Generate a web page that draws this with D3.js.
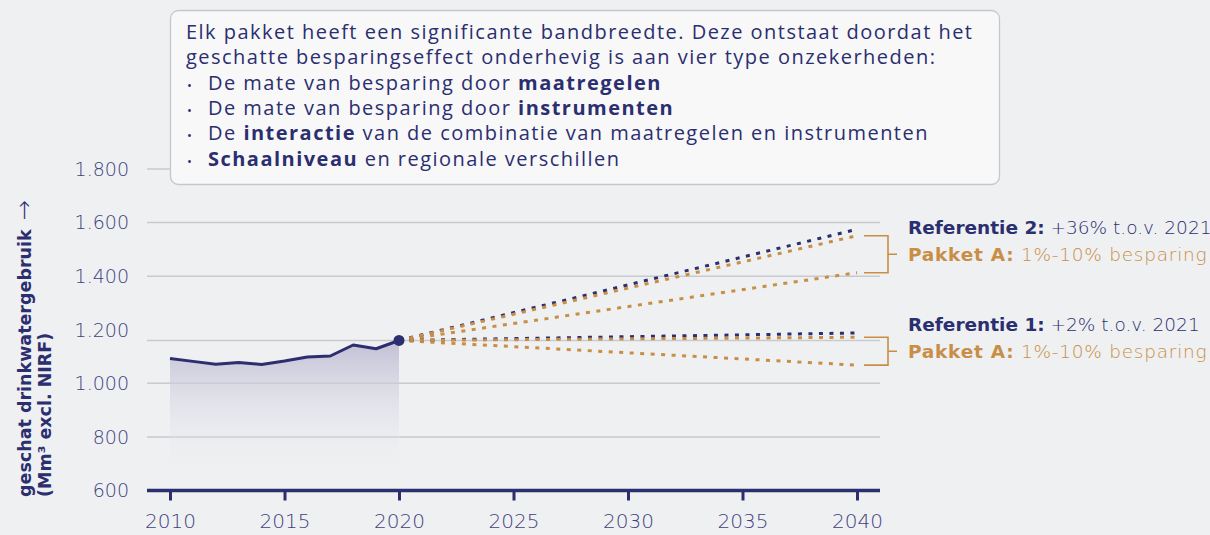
<!DOCTYPE html>
<html>
<head>
<meta charset="utf-8">
<script src="https://cdn.jsdelivr.net/npm/d3@7"></script>
<style>
  html, body { margin: 0; padding: 0; background: #eff0f2; }
  svg { display: block; }
</style>
</head>
<body>
<svg id="chart" width="1210" height="535"></svg>
<script>
// DATA //////////////////////////////////
var histYears = [2010, 2011, 2012, 2013, 2014, 2015, 2016, 2017, 2018, 2019, 2020];
var histValues = [1093, 1082, 1071, 1078, 1070, 1083, 1098, 1102, 1143, 1129, 1160];

var projYears = [2020, 2040];
var ref2 = [1160, 1575];
var pakket2Hi = [1160, 1551];
var pakket2Lo = [1160, 1413];
var ref1 = [1160, 1188];
var pakket1Hi = [1160, 1172];
var pakket1Lo = [1160, 1068];

var yTicks = [600, 800, 1000, 1200, 1400, 1600, 1800];
var gridValues = [800, 1000, 1400, 1600, 1800];
var xTicks = [2010, 2015, 2020, 2025, 2030, 2035, 2040];

var boxLines = [
  [{ t: "Elk pakket heeft een significante bandbreedte. Deze ontstaat doordat het" }],
  [{ t: "geschatte besparingseffect onderhevig is aan vier type onzekerheden:" }],
  [{ t: "De mate van besparing door " }, { t: "maatregelen", b: true }],
  [{ t: "De mate van besparing door " }, { t: "instrumenten", b: true }],
  [{ t: "De " }, { t: "interactie", b: true }, { t: " van de combinatie van maatregelen en instrumenten" }],
  [{ t: "Schaalniveau", b: true }, { t: " en regionale verschillen" }]
];
var bulletFrom = 2;

// COLOURS ///////////////////////////////
var navy = "#2b2e6f";
var gold = "#c98e45";
var tickCol = "#3f4280";
var gridCol = "#c9cacf";

var svg = d3.select("#chart");
var x = d3.scaleLinear().domain([2010, 2040]).range([170, 857]);
var y = d3.scaleLinear().domain([600, 1800]).range([490.5, 169]);
var nl = d3.formatLocale({ decimal: ",", thousands: ".", grouping: [3], currency: ["€", ""] });
var fmt = nl.format(",");

svg.append("rect").attr("width", 1210).attr("height", 535).attr("fill", "#eff0f2");

// gradient for the area
var defs = svg.append("defs");
var grad = defs.append("linearGradient").attr("id", "areaGrad")
  .attr("gradientUnits", "userSpaceOnUse")
  .attr("x1", 0).attr("x2", 0).attr("y1", y(1160)).attr("y2", y(660));
grad.append("stop").attr("offset", 0).attr("stop-color", "#bcbad2").attr("stop-opacity", 0.9);
grad.append("stop").attr("offset", 1).attr("stop-color", "#eff0f2").attr("stop-opacity", 0);

// GRID //////////////////////////////////
svg.append("g").selectAll("line").data(gridValues).join("line")
  .attr("x1", 147).attr("x2", 880)
  .attr("y1", d => y(d)).attr("y2", d => y(d))
  .attr("stroke", gridCol).attr("stroke-width", 1.5);
// level of 2020 instead of the 1.200 line
svg.append("line")
  .attr("x1", 147).attr("x2", 880)
  .attr("y1", y(histValues[histValues.length - 1])).attr("y2", y(histValues[histValues.length - 1]))
  .attr("stroke", gridCol).attr("stroke-width", 1.5);

// Y TICK LABELS /////////////////////////
svg.append("g").selectAll("text").data(yTicks).join("text")
  .attr("x", 129).attr("y", d => y(d)).attr("dy", "0.36em")
  .attr("text-anchor", "end")
  .attr("font-family", "DejaVu Sans").attr("font-weight", 200).attr("font-size", 19)
  .attr("fill", tickCol)
  .text(d => fmt(d));

// Y AXIS TITLE //////////////////////////
var yTitle = svg.append("g").attr("font-family", "DejaVu Sans").attr("font-weight", "bold")
  .attr("font-size", 17.5).attr("fill", navy);
var yt1 = yTitle.append("text").attr("transform", "translate(31,497) rotate(-90)");
yt1.append("tspan").text("geschat drinkwatergebruik");
yt1.append("tspan").attr("dx", 9).attr("font-size", 24).attr("font-weight", 200).attr("dy", 1).text("\u2192");
yTitle.append("text").attr("transform", "translate(51,497) rotate(-90)")
  .text("(Mm\u00b3 excl. NIRF)");

// AREA + HISTORY ////////////////////////
var hist = histYears.map((d, i) => ({ yr: d, v: histValues[i] }));
svg.append("path").datum(hist)
  .attr("fill", "url(#areaGrad)")
  .attr("d", d3.area().x(d => x(d.yr)).y0(y(660)).y1(d => y(d.v)));

// PROJECTIONS ///////////////////////////
function proj(vals) { return projYears.map((d, i) => ({ yr: d, v: vals[i] })); }
var line = d3.line().x(d => x(d.yr)).y(d => y(d.v));
var projSeries = [
  { vals: pakket2Lo, col: gold },
  { vals: pakket1Lo, col: gold },
  { vals: ref1, col: navy },
  { vals: pakket1Hi, col: gold },
  { vals: ref2, col: navy },
  { vals: pakket2Hi, col: gold }
];
svg.append("g").selectAll("path").data(projSeries).join("path")
  .attr("d", d => line(proj(d.vals)))
  .attr("fill", "none").attr("stroke", d => d.col)
  .attr("stroke-width", 3).attr("stroke-dasharray", "4 6.5");

svg.append("path").datum(hist)
  .attr("fill", "none").attr("stroke", navy).attr("stroke-width", 3)
  .attr("stroke-linejoin", "round")
  .attr("d", line);
svg.append("circle")
  .attr("cx", x(2020)).attr("cy", y(histValues[histValues.length - 1])).attr("r", 5.5)
  .attr("fill", navy);

// X AXIS ////////////////////////////////
var xAxis = svg.append("g").attr("transform", "translate(0," + y(600) + ")")
  .call(d3.axisBottom(x).tickValues(xTicks).tickSize(10).tickPadding(13).tickFormat(d3.format("d")));
xAxis.select(".domain").remove();
xAxis.selectAll(".tick line").attr("stroke", navy).attr("stroke-width", 3);
xAxis.selectAll(".tick text")
  .attr("font-family", "DejaVu Sans").attr("font-weight", 200).attr("font-size", 20)
  .attr("fill", tickCol);
svg.append("line")
  .attr("x1", 147).attr("x2", 880).attr("y1", y(600)).attr("y2", y(600))
  .attr("stroke", navy).attr("stroke-width", 3.5);

// BRACKETS + LABELS /////////////////////
var groups = [
  { ref: ref2, hi: pakket2Hi, lo: pakket2Lo, name: "Referentie 2:", rest: " +36% t.o.v. 2021" },
  { ref: ref1, hi: pakket1Hi, lo: pakket1Lo, name: "Referentie 1:", rest: " +2% t.o.v. 2021" }
];
groups.forEach(function (g) {
  var yHi = y(g.hi[1]), yLo = y(g.lo[1]), yMid = (yHi + yLo) / 2;
  svg.append("path")
    .attr("d", "M864," + yHi + "H888V" + yLo + "H864M888," + yMid + "H897")
    .attr("fill", "none").attr("stroke", gold).attr("stroke-width", 1.6);
  var t1 = svg.append("text").attr("x", 908).attr("y", yMid + 7)
    .attr("font-family", "DejaVu Sans").attr("font-size", 18.5).attr("letter-spacing", 0.75)
    .attr("fill", gold);
  t1.append("tspan").attr("font-weight", "bold").text("Pakket A:");
  t1.append("tspan").attr("font-weight", 200).text(" 1%-10% besparing");
  var t2 = svg.append("text").attr("x", 908).attr("y", yMid + 7 - 27)
    .attr("font-family", "DejaVu Sans").attr("font-size", 18.5).attr("fill", navy);
  t2.append("tspan").attr("font-weight", "bold").text(g.name);
  t2.append("tspan").attr("font-weight", 200).text(g.rest);
});

// INFO BOX //////////////////////////////
svg.append("rect")
  .attr("x", 170.5).attr("y", 10.5).attr("width", 829).attr("height", 174).attr("rx", 8)
  .attr("fill", "#f8f8f9").attr("stroke", "#c6c7cc").attr("stroke-width", 1.3);
var box = svg.append("g").attr("font-family", "Open Sans").attr("font-size", 20).attr("fill", navy);
var boxTexts = [];
boxLines.forEach(function (parts, i) {
  var yy = 39 + i * 25.3;
  var bullet = i >= bulletFrom;
  if (bullet) {
    box.append("text").attr("x", 187).attr("y", yy).text("\u2022")
      .attr("font-size", 13);
  }
  var t = box.append("text").attr("x", bullet ? 208 : 186).attr("y", yy);
  parts.forEach(function (p) {
    t.append("tspan").attr("font-weight", p.b ? 700 : 400).text(p.t);
  });
  boxTexts.push(t);
});
// widen the lines so the first one reaches the right edge as in the original
var first = boxTexts[0].node();
var nChars = boxLines[0][0].t.length;
var spacing = (786 - first.getComputedTextLength()) / (nChars - 1);
boxTexts.forEach(t => t.attr("letter-spacing", spacing));
</script>
</body>
</html>
